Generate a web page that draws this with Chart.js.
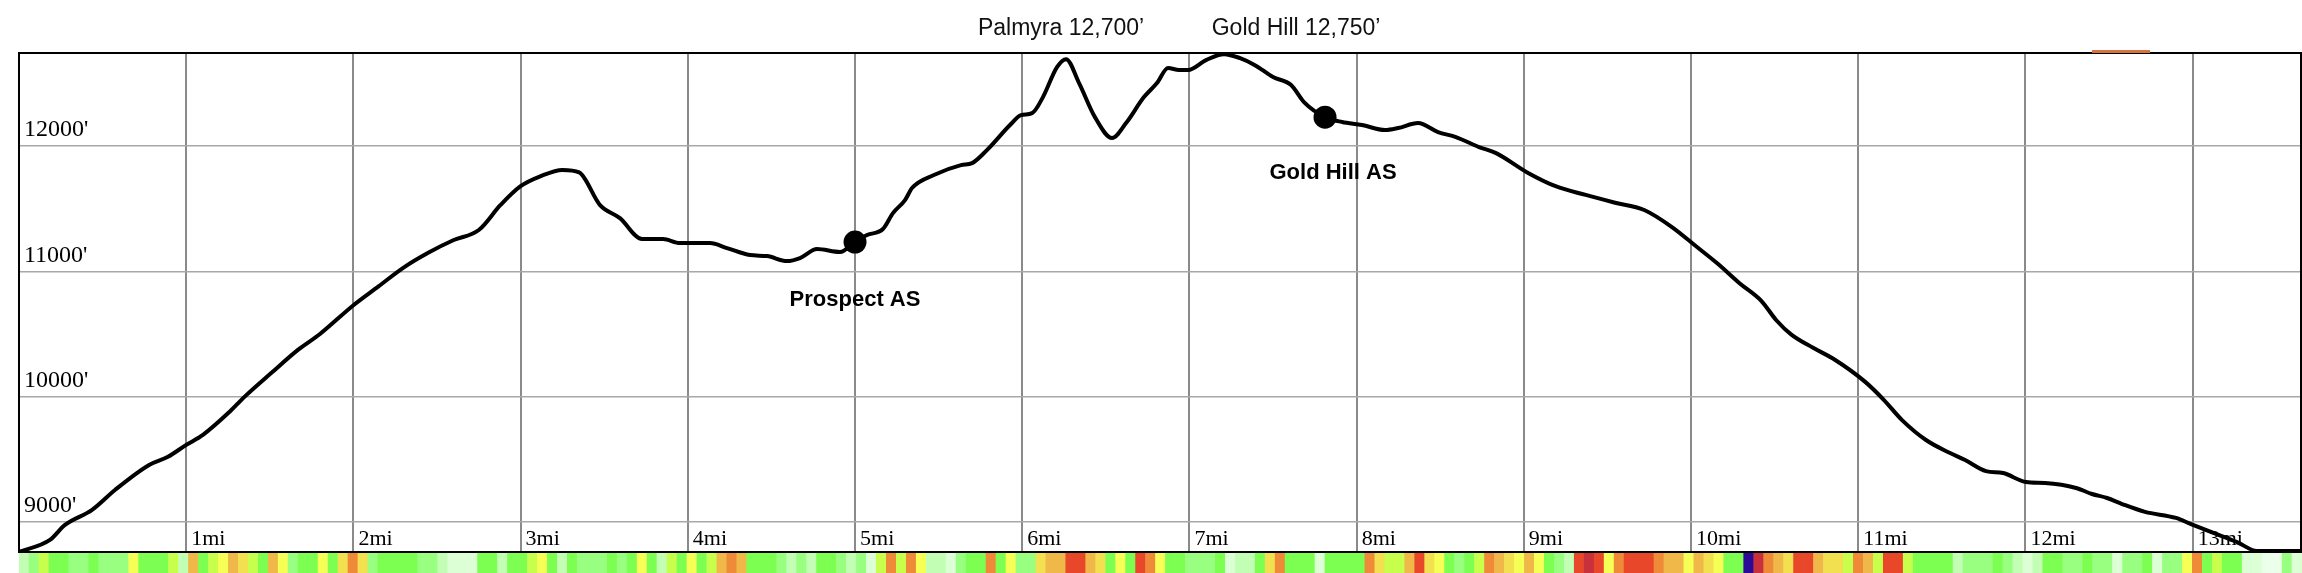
<!DOCTYPE html>
<html><head><meta charset="utf-8">
<script src="https://cdn.jsdelivr.net/npm/chart.js@4/dist/chart.umd.min.js"></script>
<style>
html,body{margin:0;padding:0;background:#fff;overflow:hidden}
#wrap{position:relative;width:2302px;height:573px}
.box{position:absolute;left:0}
</style></head><body>
<div id="wrap">
<div class="box" style="top:0;width:2302px;height:573px"><canvas id="main" width="2302" height="573"></canvas></div>
<div class="box" style="top:553px;width:2302px;height:20px"><canvas id="stripe" width="2302" height="20"></canvas></div>
</div>
<script>
// ---- data ----
const miles = [0.000,0.185,0.275,0.437,0.574,0.778,0.891,1.000,1.100,1.260,1.350,1.510,1.670,1.800,2.000,2.150,2.300,2.450,2.600,2.750,2.880,3.000,3.120,3.250,3.350,3.475,3.594,3.726,3.852,3.953,4.133,4.234,4.372,4.474,4.593,4.671,4.773,4.910,5.000,5.072,5.167,5.227,5.299,5.341,5.472,5.634,5.700,5.789,5.927,5.993,6.059,6.124,6.208,6.262,6.340,6.435,6.537,6.621,6.728,6.806,6.872,6.938,6.992,7.099,7.207,7.303,7.392,7.500,7.608,7.685,7.811,7.913,8.032,8.170,8.248,8.367,8.487,8.594,8.732,8.834,9.020,9.190,9.370,9.540,9.720,9.890,10.030,10.160,10.290,10.420,10.510,10.600,10.730,10.860,11.040,11.154,11.262,11.405,11.549,11.639,11.764,11.866,12.004,12.117,12.303,12.398,12.488,12.578,12.715,12.900,12.990,13.128,13.266,13.385,13.648];
const elevations = [8760,8856,8976,9096,9255,9455,9520,9615,9695,9880,10000,10190,10375,10500,10730,10880,11030,11150,11250,11330,11530,11680,11760,11810,11790,11529,11425,11258,11258,11226,11226,11186,11130,11122,11082,11106,11178,11154,11234,11290,11338,11465,11569,11665,11769,11848,11864,11968,12168,12247,12263,12391,12630,12694,12503,12231,12064,12184,12391,12503,12623,12607,12607,12686,12734,12702,12646,12551,12487,12351,12231,12192,12168,12128,12144,12184,12112,12072,11992,11944,11790,11680,11610,11550,11490,11350,11200,11060,10905,10765,10610,10495,10390,10295,10120,9973,9813,9654,9550,9494,9406,9390,9318,9310,9271,9223,9191,9143,9080,9032,8983,8911,8839,8768,8768];
const aidStationNames = ['Prospect AS', 'Gold Hill AS'];
const aidStationMiles = [5.0, 7.811];
const aidStationElev = [11234, 12231];
const summitNames = ['Palmyra 12,700\u2019', 'Gold Hill 12,750\u2019'];
const summitLabelMiles = [6.232, 7.638];
const yTickValues = [9000, 10000, 11000, 12000];
const xTickValues = [0,1,2,3,4,5,6,7,8,9,10,11,12,13];
const stripeCodes = ("PLCGGLLGLL"+"LYGGGCPOGC"+"YOyCGOYLGG"+"YGyoyLGGGG"+"LLPWWWGGPG"+
  "GCYGPGLLLG"+"LGYGPCGYGC"+"OoOGGGLPLP"+"GGLPLWCoCo"+"YPPWLGGoGY"+
  "LLyOORROyG"+"YGRoYGGLLL"+"GWPPGyoGGG"+"WGGGGoyCCO"+"RyYGLGCoOy"+
  "YOYGLPRDRY"+"oRRRoOOYOy"+"YGGVDoOyRR"+"OyyCoOCRRC"+"GGGGPLLLGL"+
  "PWPGGLLGLL"+"WLLGWLLYoG"+"CGGWWXXLW").split('');

// ---- styles ----
const palette = {G:'#7dff52',L:'#99ff80',P:'#c2ffb4',W:'#dcffd6',X:'#ecffea',C:'#c8ff4c',
  Y:'#f6ff56',y:'#f2e050',O:'#f0b848',o:'#ee8a38',R:'#e8472a',D:'#c8303c',V:'#2c0a98'};

const annot = {
  id: 'annot',
  afterDraw(chart) {
    const {ctx, chartArea: a, scales: {x, y}} = chart;
    ctx.save();
    ctx.strokeStyle = '#000'; ctx.lineWidth = 2;
    ctx.beginPath(); ctx.moveTo(a.left, a.top); ctx.lineTo(a.right, a.top); ctx.lineTo(a.right, a.bottom); ctx.stroke();
    ctx.fillStyle = '#d8723e'; ctx.fillRect(2092, 50, 58, 3);
    ctx.fillStyle = '#000'; ctx.textAlign = 'center'; ctx.textBaseline = 'middle';
    ctx.font = 'bold 22px "Liberation Sans", Arial, sans-serif';
    const dx = [0, 8], dy = [58, 56];
    aidStationNames.forEach((n, i) => {
      ctx.fillText(n, x.getPixelForValue(aidStationMiles[i]) + dx[i], y.getPixelForValue(aidStationElev[i]) + dy[i]);
    });
    ctx.font = '23px "Liberation Sans", Arial, sans-serif'; ctx.fillStyle = '#111';
    summitNames.forEach((n, i) => ctx.fillText(n, x.getPixelForValue(summitLabelMiles[i]), a.top - 24));
    ctx.restore();
  }
};

new Chart(document.getElementById('main'), {
  type: 'line',
  data: {
    datasets: [
      {data: miles.map((m, i) => ({x: m, y: elevations[i]})), borderColor: '#000', borderWidth: 4,
       pointRadius: 0, cubicInterpolationMode: 'monotone', fill: false, order: 2},
      {type: 'scatter', data: aidStationMiles.map((m, i) => ({x: m, y: aidStationElev[i]})),
       pointRadius: 11.5, backgroundColor: '#000', borderWidth: 0, order: 1}
    ]
  },
  options: {
    responsive: false, animation: false,
    layout: {autoPadding: false, padding: {left: 19, right: 1, top: 53, bottom: 21}},
    plugins: {legend: {display: false}, tooltip: {enabled: false}},
    scales: {
      x: {type: 'linear', min: 0, max: 13.648,
        afterBuildTicks: ax => { ax.ticks = xTickValues.map(v => ({value: v})); },
        afterFit: ax => { ax.height = 0; ax.paddingLeft = 0; ax.paddingRight = 0; },
        grid: {color: '#8a8a8a', lineWidth: 2, drawTicks: false},
        border: {display: true, color: '#000', width: 2},
        ticks: {mirror: true, align: 'start', padding: 0, labelOffset: 5, color: '#000',
          font: {family: '"Liberation Serif", "Times New Roman", serif', size: 22},
          callback: v => v === 0 ? '' : v + 'mi'}
      },
      y: {type: 'linear', min: 8760, max: 12743,
        afterBuildTicks: ax => { ax.ticks = yTickValues.map(v => ({value: v})); },
        afterFit: ax => { ax.width = 0; ax.paddingTop = 0; ax.paddingBottom = 0; },
        grid: {color: '#a8a8a8', lineWidth: 1.5, drawTicks: false},
        border: {display: true, color: '#000', width: 2},
        ticks: {mirror: true, padding: 5, labelOffset: -16, color: '#000',
          font: {family: '"Liberation Serif", "Times New Roman", serif', size: 24},
          callback: v => v + "'"}
      }
    }
  },
  plugins: [annot]
});

new Chart(document.getElementById('stripe'), {
  type: 'bar',
  data: {
    labels: stripeCodes.map((c, i) => i),
    datasets: [{data: stripeCodes.map(() => 1), backgroundColor: stripeCodes.map(c => palette[c]),
      barPercentage: 1, categoryPercentage: 1, borderWidth: 0}]
  },
  options: {
    responsive: false, animation: false,
    layout: {autoPadding: false, padding: {left: 19, right: 0, top: 0, bottom: 0}},
    plugins: {legend: {display: false}, tooltip: {enabled: false}},
    scales: {x: {display: false}, y: {display: false, min: 0, max: 1}}
  }
});
</script>
</body></html>
